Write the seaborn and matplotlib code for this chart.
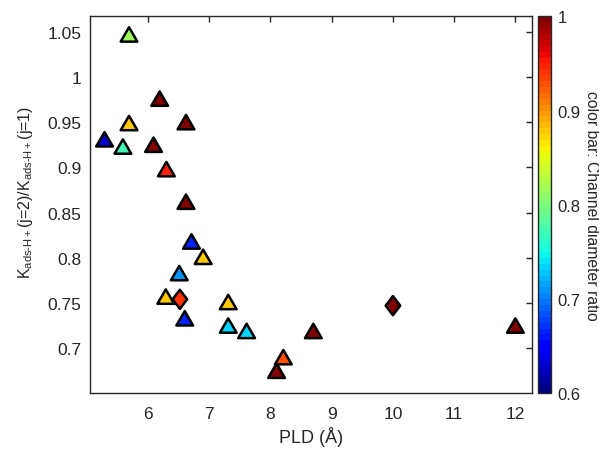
import numpy as np
import pandas as pd
import matplotlib
matplotlib.use("Agg")
import matplotlib.pyplot as plt
import seaborn as sns
from matplotlib.path import Path

sns.set_style("white")
plt.rcParams["font.family"] = ["Liberation Sans", "DejaVu Sans"]
plt.rcParams["mathtext.fontset"] = "custom"
plt.rcParams["mathtext.rm"] = "Liberation Sans"
plt.rcParams["mathtext.it"] = "Liberation Sans"
plt.rcParams["mathtext.default"] = "regular"

# ---------------------------------------------------------
# Data
# ---------------------------------------------------------
pld = [5.69, 5.29, 5.59, 5.69, 6.19, 6.09, 6.62, 6.30, 6.62, 6.71, 6.90, 6.51,
       6.29, 6.52, 6.60, 7.31, 7.31, 7.61, 8.10, 8.21, 8.70, 10.0, 12.0]
k_ratio = [1.047, 0.931, 0.923, 0.949, 0.976, 0.925, 0.950, 0.898, 0.862, 0.818,
           0.801, 0.783, 0.757, 0.754, 0.733, 0.751, 0.725, 0.719, 0.675, 0.690,
           0.719, 0.747, 0.725]
diam_ratio = [0.818, 0.63, 0.77, 0.88, 1.0, 1.0, 1.0, 0.945, 1.0, 0.668,
              0.88, 0.71, 0.88, 0.94, 0.668, 0.88, 0.737, 0.737, 1.0, 0.925,
              1.0, 1.0, 1.0]
shape = ["tri"] * 13 + ["dia"] + ["tri"] * 7 + ["dia", "tri"]

df = pd.DataFrame({"PLD": pld, "K": k_ratio, "ratio": diam_ratio, "shape": shape})

# MATLAB-like markers: slightly wide triangle, tall diamond
triangle = Path([(0, 0.86), (-1, -0.86), (1, -0.86), (0, 0.86)],
                [Path.MOVETO, Path.LINETO, Path.LINETO, Path.CLOSEPOLY])
diamond = Path([(0, 1), (0.76, 0), (0, -1), (-0.76, 0), (0, 1)],
               [Path.MOVETO, Path.LINETO, Path.LINETO, Path.LINETO, Path.CLOSEPOLY])

cmap = plt.get_cmap("jet", 64)
edge_col = "#262626"

fig = plt.figure(figsize=(5.99, 4.52), dpi=100)
ax = fig.add_axes([0.150, 0.1276, 0.738, 0.834])
cax = fig.add_axes([0.8987, 0.1276, 0.0207, 0.834])

sns.scatterplot(
    data=df, x="PLD", y="K", hue="ratio", palette=cmap, hue_norm=(0.6, 1.0),
    style="shape", markers={"tri": triangle, "dia": diamond},
    size="shape", sizes={"tri": 145, "dia": 190},
    edgecolor="black", linewidth=1.8, legend=False, ax=ax,
)

ax.set_xlim(5.05, 12.27)
ax.set_ylim(0.65, 1.067)
ax.set_xticks([6, 7, 8, 9, 10, 11, 12])
yt = [0.7, 0.75, 0.8, 0.85, 0.9, 0.95, 1.0, 1.05]
ax.set_yticks(yt)
ax.set_yticklabels([f"{v:g}" for v in yt])
ax.tick_params(direction="in", top=True, right=True, length=4, width=1,
               colors=edge_col, labelsize=12.5)
ax.tick_params(axis="x", pad=9)
ax.tick_params(axis="y", pad=6)
for sp in ax.spines.values():
    sp.set_color(edge_col)
    sp.set_linewidth(1.0)

ax.set_xlabel("PLD (Å)", fontsize=13, color=edge_col, labelpad=4)
ax.set_ylabel(r"K$_{ads\text{-}H+}$(j=2)/K$_{ads\text{-}H+}$(j=1)",
              fontsize=11.5, color=edge_col)
ax.yaxis.set_label_coords(-0.123, 0.537)

sm = plt.cm.ScalarMappable(cmap=cmap, norm=plt.Normalize(0.6, 1.0))
cb = fig.colorbar(sm, cax=cax)
cb.set_ticks([0.6, 0.7, 0.8, 0.9, 1.0])
cb.set_ticklabels(["0.6", "0.7", "0.8", "0.9", "1"])
cb.ax.tick_params(direction="in", length=0, colors=edge_col, labelsize=12, pad=5)
cb.outline.set_edgecolor(edge_col)
cb.outline.set_linewidth(1.0)
cb.set_label("color bar: Channel diameter ratio", rotation=270, fontsize=11.3,
             color=edge_col, labelpad=13)

fig.savefig("out.png", dpi=100)
